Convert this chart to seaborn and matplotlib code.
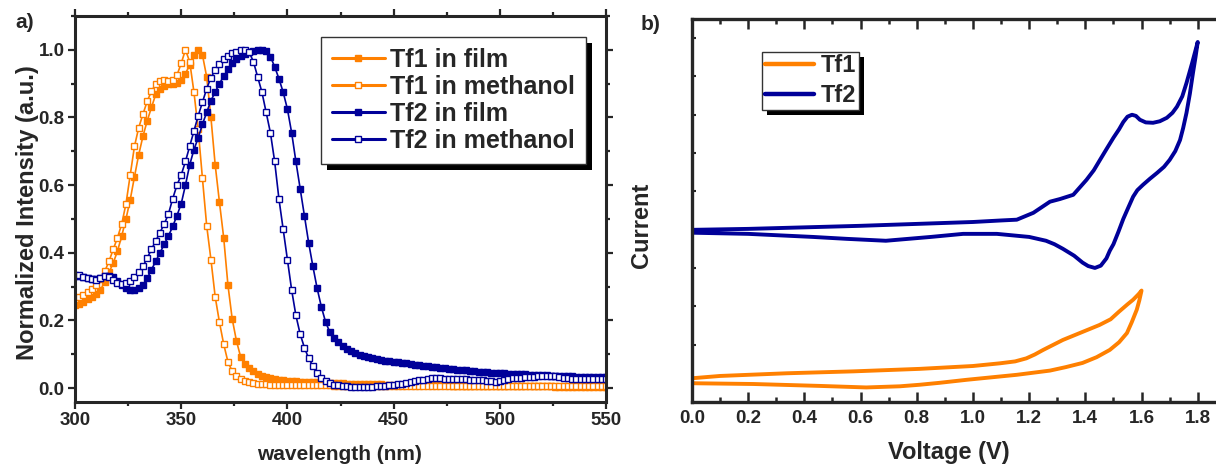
import numpy as np
import matplotlib
matplotlib.use("Agg")
import matplotlib.pyplot as plt
import seaborn as sns
from matplotlib.patches import Rectangle
from matplotlib.ticker import MultipleLocator, FixedLocator, NullFormatter

# ---------------- data: panel a (normalized emission) ----------------
wavelength = np.arange(300, 551, 2)

tf1_film = [
    0.245, 0.250, 0.256, 0.263, 0.270, 0.278, 0.290, 0.315, 0.342, 0.370,
    0.405, 0.450, 0.500, 0.557, 0.625, 0.690, 0.745, 0.790, 0.830, 0.868,
    0.885, 0.893, 0.898, 0.900, 0.903, 0.912, 0.930, 0.955, 0.985, 1.000,
    0.985, 0.920, 0.800, 0.660, 0.550, 0.445, 0.305, 0.205, 0.140, 0.092,
    0.072, 0.060, 0.050, 0.043, 0.037, 0.033, 0.030, 0.027, 0.025, 0.023,
    0.022, 0.021, 0.020, 0.019, 0.019, 0.018, 0.017, 0.017, 0.016, 0.016,
    0.015, 0.015, 0.014, 0.014, 0.013, 0.013, 0.013, 0.012, 0.012, 0.012,
    0.011, 0.011, 0.011, 0.010, 0.010, 0.010, 0.010, 0.010, 0.009, 0.009,
    0.009, 0.009, 0.009, 0.008, 0.008, 0.008, 0.008, 0.008, 0.008, 0.007,
    0.007, 0.007, 0.007, 0.007, 0.007, 0.007, 0.006, 0.006, 0.006, 0.006,
    0.006, 0.006, 0.006, 0.006, 0.005, 0.005, 0.005, 0.005, 0.005, 0.005,
    0.005, 0.005, 0.005, 0.004, 0.004, 0.004, 0.004, 0.004, 0.004, 0.004,
    0.004, 0.004, 0.004, 0.004, 0.004, 0.004,
]

tf1_methanol = [
    0.262, 0.268, 0.275, 0.283, 0.293, 0.305, 0.322, 0.345, 0.375, 0.410,
    0.445, 0.485, 0.545, 0.630, 0.715, 0.770, 0.810, 0.848, 0.878, 0.898,
    0.908, 0.910, 0.907, 0.910, 0.925, 0.960, 1.000, 0.965, 0.875, 0.765,
    0.620, 0.480, 0.380, 0.270, 0.195, 0.130, 0.078, 0.050, 0.035, 0.026,
    0.020, 0.017, 0.015, 0.013, 0.012, 0.011, 0.010, 0.010, 0.009, 0.009,
    0.009, 0.009, 0.008, 0.008, 0.008, 0.008, 0.008, 0.008, 0.008, 0.008,
    0.008, 0.007, 0.007, 0.007, 0.007, 0.007, 0.007, 0.007, 0.007, 0.007,
    0.007, 0.007, 0.007, 0.006, 0.006, 0.006, 0.006, 0.006, 0.006, 0.006,
    0.006, 0.006, 0.006, 0.006, 0.006, 0.006, 0.006, 0.006, 0.006, 0.006,
    0.006, 0.006, 0.006, 0.006, 0.006, 0.006, 0.006, 0.006, 0.006, 0.006,
    0.006, 0.006, 0.006, 0.006, 0.006, 0.006, 0.006, 0.006, 0.006, 0.006,
    0.006, 0.006, 0.006, 0.006, 0.006, 0.006, 0.006, 0.006, 0.006, 0.006,
    0.006, 0.006, 0.006, 0.006, 0.006, 0.006,
]

tf2_film = [
    0.335, 0.332, 0.328, 0.325, 0.323, 0.323, 0.326, 0.330, 0.332, 0.328,
    0.318, 0.305, 0.295, 0.290, 0.290, 0.295, 0.305, 0.325, 0.350, 0.375,
    0.400, 0.425, 0.450, 0.478, 0.510, 0.545, 0.600, 0.660, 0.705, 0.740,
    0.780, 0.815, 0.850, 0.875, 0.900, 0.922, 0.942, 0.960, 0.972, 0.982,
    0.988, 0.993, 0.997, 1.000, 1.000, 0.996, 0.980, 0.950, 0.915, 0.875,
    0.825, 0.755, 0.670, 0.590, 0.510, 0.430, 0.360, 0.295, 0.240, 0.195,
    0.165, 0.147, 0.135, 0.125, 0.116, 0.109, 0.103, 0.099, 0.096, 0.092,
    0.089, 0.086, 0.083, 0.081, 0.079, 0.077, 0.076, 0.074, 0.073, 0.071,
    0.069, 0.068, 0.066, 0.064, 0.063, 0.061, 0.060, 0.059, 0.058, 0.056,
    0.055, 0.054, 0.053, 0.051, 0.050, 0.049, 0.048, 0.047, 0.046, 0.045,
    0.045, 0.044, 0.043, 0.043, 0.042, 0.041, 0.041, 0.040, 0.039, 0.039,
    0.038, 0.038, 0.037, 0.037, 0.036, 0.036, 0.035, 0.035, 0.034, 0.034,
    0.033, 0.033, 0.033, 0.032, 0.032, 0.032,
]

tf2_methanol = [
    0.330, 0.335, 0.328, 0.325, 0.322, 0.320, 0.325, 0.330, 0.328, 0.320,
    0.312, 0.308, 0.310, 0.318, 0.328, 0.342, 0.360, 0.385, 0.410, 0.435,
    0.460, 0.485, 0.515, 0.560, 0.600, 0.630, 0.670, 0.715, 0.760, 0.805,
    0.845, 0.885, 0.918, 0.940, 0.958, 0.972, 0.982, 0.990, 0.995, 0.999,
    1.000, 0.993, 0.965, 0.920, 0.875, 0.815, 0.755, 0.670, 0.560, 0.470,
    0.380, 0.290, 0.215, 0.160, 0.120, 0.088, 0.066, 0.045, 0.030, 0.020,
    0.014, 0.010, 0.008, 0.006, 0.005, 0.004, 0.003, 0.003, 0.003, 0.004,
    0.004, 0.005, 0.006, 0.007, 0.008, 0.009, 0.011, 0.013, 0.015, 0.018,
    0.021, 0.023, 0.025, 0.027, 0.029, 0.030, 0.029, 0.028, 0.028, 0.027,
    0.027, 0.027, 0.026, 0.025, 0.025, 0.024, 0.023, 0.022, 0.020, 0.019,
    0.020, 0.024, 0.028, 0.030, 0.030, 0.031, 0.032, 0.033, 0.034, 0.035,
    0.036, 0.037, 0.036, 0.036, 0.034, 0.031, 0.029, 0.027, 0.027, 0.027,
    0.027, 0.027, 0.028, 0.028, 0.028, 0.028,
]

# ---------------- data: panel b (cyclic voltammetry, arbitrary units) ----------------
tf1_voltage = [
    0.00, 0.10, 0.337, 0.574, 0.81, 1.00, 1.096, 1.15, 1.19, 1.22, 1.25, 1.285,
    1.32, 1.35, 1.38, 1.45, 1.49, 1.52, 1.55, 1.57, 1.59, 1.60,
    1.592, 1.583, 1.565, 1.548, 1.52, 1.487, 1.44, 1.39, 1.33, 1.274, 1.156,
    0.978, 0.88, 0.81, 0.74, 0.62, 0.455, 0.218, 0.00, 0.00,
]
tf1_current = [
    0.12, 0.18, 0.25, 0.30, 0.365, 0.44, 0.51, 0.56, 0.64, 0.74, 0.86, 0.99,
    1.12, 1.21, 1.30, 1.51, 1.66, 1.86, 2.05, 2.17, 2.32, 2.41,
    2.15, 1.91, 1.58, 1.30, 1.06, 0.86, 0.67, 0.52, 0.41, 0.32, 0.21,
    0.08, 0.00, -0.05, -0.09, -0.12, -0.08, -0.03, -0.01, 0.12,
]

tf2_voltage = [
    0.00, 0.20, 0.40, 0.60, 0.80, 1.00, 1.10, 1.156, 1.215, 1.274, 1.31, 1.357,
    1.404, 1.43, 1.452, 1.475, 1.50, 1.52, 1.535, 1.55, 1.566, 1.58, 1.594,
    1.615, 1.641, 1.665, 1.69, 1.71, 1.726, 1.745, 1.76, 1.78, 1.80,
    1.792, 1.783, 1.772, 1.76, 1.748, 1.737, 1.72, 1.70, 1.68, 1.655, 1.63,
    1.605, 1.585, 1.57, 1.553, 1.535, 1.518, 1.50, 1.487, 1.475, 1.455,
    1.434, 1.41, 1.39, 1.36, 1.32, 1.29, 1.26, 1.20, 1.085, 0.965, 0.85,
    0.69, 0.55, 0.43, 0.20, 0.00, 0.00,
]
tf2_current = [
    3.995, 4.02, 4.06, 4.10, 4.15, 4.20, 4.24, 4.26, 4.44, 4.73, 4.80, 4.91,
    5.30, 5.55, 5.82, 6.10, 6.40, 6.62, 6.81, 6.95, 7.00, 6.97, 6.87,
    6.80, 6.79, 6.83, 6.92, 7.05, 7.21, 7.48, 7.83, 8.35, 8.90,
    8.50, 8.09, 7.55, 7.05, 6.65, 6.34, 6.05, 5.82, 5.64, 5.48, 5.33,
    5.17, 5.03, 4.86, 4.58, 4.28, 3.95, 3.62, 3.45, 3.25, 3.06,
    3.00, 3.05, 3.14, 3.32, 3.50, 3.62, 3.71, 3.81, 3.89, 3.89, 3.81,
    3.71, 3.76, 3.81, 3.89, 3.92, 3.995,
]

emission_labels = ["Tf1 in film", "Tf1 in methanol", "Tf2 in film", "Tf2 in methanol"]
cv_labels = ["Tf1", "Tf2"]

ORANGE = "#FF8000"
NAVY = "#000099"

# ---------------- style ----------------
sns.set_style("ticks")
plt.rcParams["font.family"] = ["Liberation Sans", "DejaVu Sans"]
plt.rcParams["font.weight"] = "bold"
plt.rcParams["axes.labelweight"] = "bold"

W, H = 1216, 467
fig = plt.figure(figsize=(W / 100, H / 100), dpi=100)

def px_axes(l, t, r, b):
    return [l / W, 1 - b / H, (r - l) / W, (b - t) / H]

axa = fig.add_axes(px_axes(75, 16, 606, 402))
axb = fig.add_axes(px_axes(692, 19, 1216, 402))

# ---------------- panel a ----------------
series = [tf1_film, tf1_methanol, tf2_film, tf2_methanol]
colors = [ORANGE, ORANGE, NAVY, NAVY]
faces = [ORANGE, "white", NAVY, "white"]
for vals, lab, c, fc in zip(series, emission_labels, colors, faces):
    sns.lineplot(x=wavelength, y=vals, ax=axa, color=c, linewidth=1.2,
                 marker="s", markersize=5.0, markerfacecolor=fc,
                 markeredgecolor=c, markeredgewidth=1.0, label=lab,
                 estimator=None, sort=False)

axa.set_xlim(300, 550)
axa.set_ylim(-0.041, 1.10)
axa.xaxis.set_major_locator(MultipleLocator(50))
axa.xaxis.set_minor_locator(MultipleLocator(25))
axa.yaxis.set_major_locator(MultipleLocator(0.2))
axa.yaxis.set_minor_locator(MultipleLocator(0.1))
axa.yaxis.set_major_formatter(matplotlib.ticker.FormatStrFormatter("%.1f"))
axa.tick_params(which="both", direction="out", width=1.6, top=True, right=True,
                labeltop=False, labelright=False)
axa.tick_params(which="major", length=5, labelsize=13.5, pad=2.5)
axa.tick_params(which="minor", length=3)
for s in axa.spines.values():
    s.set_linewidth(2.2)
axa.set_xlabel("wavelength (nm)", fontsize=15, fontweight="bold")
axa.set_ylabel("Normalized Intensity (a.u.)", fontsize=17, fontweight="bold")
axa.xaxis.set_label_coords(0.499, -0.112)
axa.yaxis.set_label_coords(-0.067, 0.49)

lega = axa.legend(loc="upper right", bbox_to_anchor=(0.962, 0.946),
                  prop={"size": 18, "weight": "bold"}, frameon=True,
                  fancybox=False, framealpha=1, edgecolor="#333333",
                  handlelength=2.1, handletextpad=0.2, labelspacing=0.12,
                  borderpad=0.45, borderaxespad=0, numpoints=1)
lega.get_frame().set_linewidth(1.0)
for h in lega.legend_handles:
    h.set_linewidth(2.2)
    h.set_markersize(5)

# ---------------- panel b ----------------
sns.lineplot(x=tf1_voltage, y=tf1_current, ax=axb, color=ORANGE, linewidth=2.8,
             label=cv_labels[0], estimator=None, sort=False)
sns.lineplot(x=tf2_voltage, y=tf2_current, ax=axb, color=NAVY, linewidth=2.8,
             label=cv_labels[1], estimator=None, sort=False)
axb.set_xlim(0, 1.865)
axb.set_ylim(-0.50, 9.50)
axb.xaxis.set_major_locator(MultipleLocator(0.2))
axb.xaxis.set_minor_locator(MultipleLocator(0.1))
axb.yaxis.set_major_locator(FixedLocator(list(range(0, 10))))
axb.yaxis.set_major_formatter(NullFormatter())
axb.xaxis.set_major_formatter(matplotlib.ticker.FormatStrFormatter("%.1f"))
axb.tick_params(axis="x", which="both", direction="in", width=1.8, top=True,
                labeltop=False)
axb.tick_params(axis="x", which="major", length=7, labelsize=13.5, pad=6)
axb.tick_params(axis="x", which="minor", length=3.5)
axb.tick_params(axis="y", which="major", direction="in", length=3, width=1.5)
axb.spines["right"].set_visible(False)
for s in ["left", "bottom", "top"]:
    axb.spines[s].set_linewidth(2.4)
axb.set_xlabel("Voltage (V)", fontsize=17, fontweight="bold")
axb.set_ylabel("Current", fontsize=17, fontweight="bold")
axb.xaxis.set_label_coords(0.49, -0.102)
axb.yaxis.set_label_coords(-0.074, 0.461)

legb = axb.legend(loc="upper left", bbox_to_anchor=(0.134, 0.914),
                  prop={"size": 17, "weight": "bold"}, frameon=True,
                  fancybox=False, framealpha=1, edgecolor="#333333",
                  handlelength=2.1, handletextpad=0.3, labelspacing=0.3,
                  borderpad=0.1, borderaxespad=0)
legb.get_frame().set_linewidth(1.0)
for h in legb.legend_handles:
    h.set_linewidth(3.2)

# panel letters
fig.text(25 / W, 1 - 22 / H, "a)", fontsize=15, fontweight="bold", ha="center", va="center")
fig.text(651 / W, 1 - 25 / H, "b)", fontsize=15, fontweight="bold", ha="center", va="center")

# legend drop shadows (solid black, offset down-right)
fig.canvas.draw()
for ax, leg, off in [(axa, lega, 6), (axb, legb, 5)]:
    bb = leg.get_frame().get_window_extent()
    inv = ax.transAxes.inverted()
    (x0, y0) = inv.transform((bb.x0 + off, bb.y0 - off))
    (x1, y1) = inv.transform((bb.x1 + off, bb.y1 - off))
    ax.add_patch(Rectangle((x0, y0), x1 - x0, y1 - y0, transform=ax.transAxes,
                           facecolor="black", edgecolor="none", zorder=4.9,
                           clip_on=False))
    leg.set_zorder(5)

fig.savefig("out.png", dpi=100)
